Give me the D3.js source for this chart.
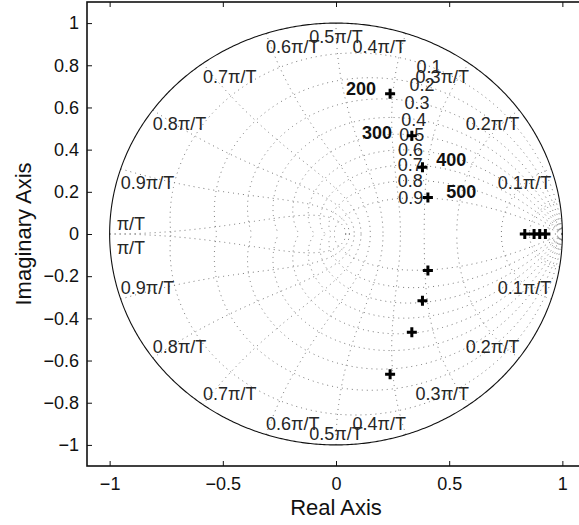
<!DOCTYPE html>
<html><head><meta charset="utf-8">
<script src="https://cdn.jsdelivr.net/npm/d3@7"></script>
<style>
body{margin:0;background:#fff}
svg{display:block}
text{font-family:"Liberation Sans",Arial,Helvetica,sans-serif}
</style>
</head><body>
<svg id="c" width="579" height="525"></svg>
<script>
// ---- data ----
const xTicks = [-1, -0.5, 0, 0.5, 1];
const yTicks = [-1, -0.8, -0.6, -0.4, -0.2, 0, 0.2, 0.4, 0.6, 0.8, 1];
const zetaValues = [0.1, 0.2, 0.3, 0.4, 0.5, 0.6, 0.7, 0.8, 0.9];
const wnValues = [0.1, 0.2, 0.3, 0.4, 0.5, 0.6, 0.7, 0.8, 0.9, 1.0]; // multiples of pi/T
const extraWn = [0.01, 0.02, 0.05]; // unlabeled small natural-frequency curves
const poleRe = [0.239, 0.335, 0.382, 0.406, 0.406, 0.382, 0.335, 0.239, 0.834, 0.875, 0.900, 0.925];
const poleIm = [0.665, 0.466, 0.317, 0.173, -0.173, -0.317, -0.466, -0.665, 0, 0, 0, 0];
const annoText = ["200", "300", "400", "500"];
const annoRe = [0.044, 0.115, 0.443, 0.487];
const annoIm = [0.690, 0.480, 0.354, 0.201];
const xLabel = "Real Axis";
const yLabel = "Imaginary Axis";

// ---- layout ----
const L = 87, R = 585, T = 2, B = 466;
const svg = d3.select("#c");
const x = d3.scaleLinear().domain([-1.1, 1.1]).range([L, R]);
const y = d3.scaleLinear().domain([-1.1, 1.1]).range([B, T]);

svg.append("defs").append("clipPath").attr("id", "clip")
  .append("rect").attr("x", L).attr("y", T).attr("width", R - L).attr("height", B - T);

const g = svg.append("g").attr("clip-path", "url(#clip)");
const line = d3.line().x(d => x(d[0])).y(d => y(d[1]));
const gridStyle = sel => sel.attr("fill", "none").attr("stroke", "#777")
  .attr("stroke-width", 1).attr("stroke-dasharray", "1 4");

// zeta lines
zetaValues.forEach(z => {
  const m = z / Math.sqrt(1 - z * z);
  const pts = d3.range(0, 401).map(i => {
    const th = Math.PI * i / 400, r = Math.exp(-m * th);
    return [r * Math.cos(th), r * Math.sin(th)];
  });
  g.append("path").attr("d", line(pts)).call(gridStyle);
  g.append("path").attr("d", line(pts.map(p => [p[0], -p[1]]))).call(gridStyle);
});
// natural frequency lines
wnValues.concat(extraWn).forEach(w => {
  const wt = w * Math.PI;
  const pts = d3.range(0, 201).map(i => {
    const z = i / 200, r = Math.exp(-z * wt), th = wt * Math.sqrt(1 - z * z);
    return [r * Math.cos(th), r * Math.sin(th)];
  });
  g.append("path").attr("d", line(pts)).call(gridStyle);
  g.append("path").attr("d", line(pts.map(p => [p[0], -p[1]]))).call(gridStyle);
});

// unit circle
const circ = d3.range(0, 721).map(i => [Math.cos(i * Math.PI / 360), Math.sin(i * Math.PI / 360)]);
g.append("path").attr("d", line(circ)).attr("fill", "none").attr("stroke", "#111").attr("stroke-width", 1.1);

// zeta labels (at wn = 0.35 pi/T)
zetaValues.forEach(z => {
  const wt = 0.35 * Math.PI, r = Math.exp(-z * wt), th = wt * Math.sqrt(1 - z * z);
  g.append("text").attr("x", x(r * Math.cos(th))).attr("y", y(r * Math.sin(th)))
    .attr("dy", "0.36em").attr("text-anchor", "middle")
    .attr("font-size", 18).attr("fill", "#262626").text(z.toFixed(1));
});
// wn labels
wnValues.forEach(w => {
  const a = w * Math.PI;
  const txt = w === 1 ? "\u03C0/T" : w.toFixed(1) + "\u03C0/T";
  const anchor = w < 0.5 ? "end" : (w === 0.5 ? "middle" : "start");
  [1, -1].forEach(sgn => {
    let px = x(Math.cos(a)), py = y(sgn * Math.sin(a));
    let by;
    if (w === 1) { px += 7; by = sgn > 0 ? py - 4 : py + 20; }
    else by = sgn > 0 ? py + 20 : py - 5;
    g.append("text").attr("x", px).attr("y", by).attr("text-anchor", anchor)
      .attr("font-size", 18).attr("fill", "#262626").text(txt);
  });
});

// poles
poleRe.forEach((re, i) => {
  g.append("path").attr("transform", `translate(${x(re)},${y(poleIm[i])})`)
    .attr("d", "M-5,0H5M0,-5V5").attr("stroke", "#000").attr("stroke-width", 3);
});
// annotations
annoText.forEach((t, i) => {
  g.append("text").attr("x", x(annoRe[i])).attr("y", y(annoIm[i])).attr("dy", "0.36em")
    .attr("font-size", 18).attr("font-weight", "bold").attr("fill", "#111").text(t);
});

// ---- axes ----
const fmt = d3.format("~g");
const ax = svg.append("g").attr("transform", `translate(0,${B})`)
  .call(d3.axisBottom(x).tickValues(xTicks).tickSizeInner(-5).tickSizeOuter(0).tickPadding(11).tickFormat(fmt));
const ay = svg.append("g").attr("transform", `translate(${L},0)`)
  .call(d3.axisLeft(y).tickValues(yTicks).tickSizeInner(-5).tickSizeOuter(0).tickPadding(8).tickFormat(fmt));
const axt = svg.append("g").attr("transform", `translate(0,${T})`)
  .call(d3.axisTop(x).tickValues(xTicks).tickSizeInner(-5).tickSizeOuter(0).tickFormat(""));
const ayr = svg.append("g").attr("transform", `translate(${R},0)`)
  .call(d3.axisRight(y).tickValues(yTicks).tickSizeInner(-5).tickSizeOuter(0).tickFormat(""));
[ax, ay, axt, ayr].forEach(a => {
  a.select(".domain").remove();
  a.selectAll(".tick line").attr("stroke", "#111").attr("stroke-width", 1);
  a.selectAll(".tick text").attr("font-size", 18).attr("fill", "#111")
    .attr("font-family", "'Liberation Sans',Arial,Helvetica,sans-serif");
});
svg.append("rect").attr("x", L).attr("y", T).attr("width", R - L).attr("height", B - T)
  .attr("fill", "none").attr("stroke", "#111").attr("stroke-width", 1.6);

// axis labels
svg.append("text").attr("x", (L + R) / 2).attr("y", 515).attr("text-anchor", "middle")
  .attr("font-size", 22).attr("fill", "#111").text(xLabel);
svg.append("text").attr("transform", `translate(31,${(T + B) / 2}) rotate(-90)`)
  .attr("text-anchor", "middle").attr("font-size", 22).attr("fill", "#111").text(yLabel);
</script>
</body></html>
